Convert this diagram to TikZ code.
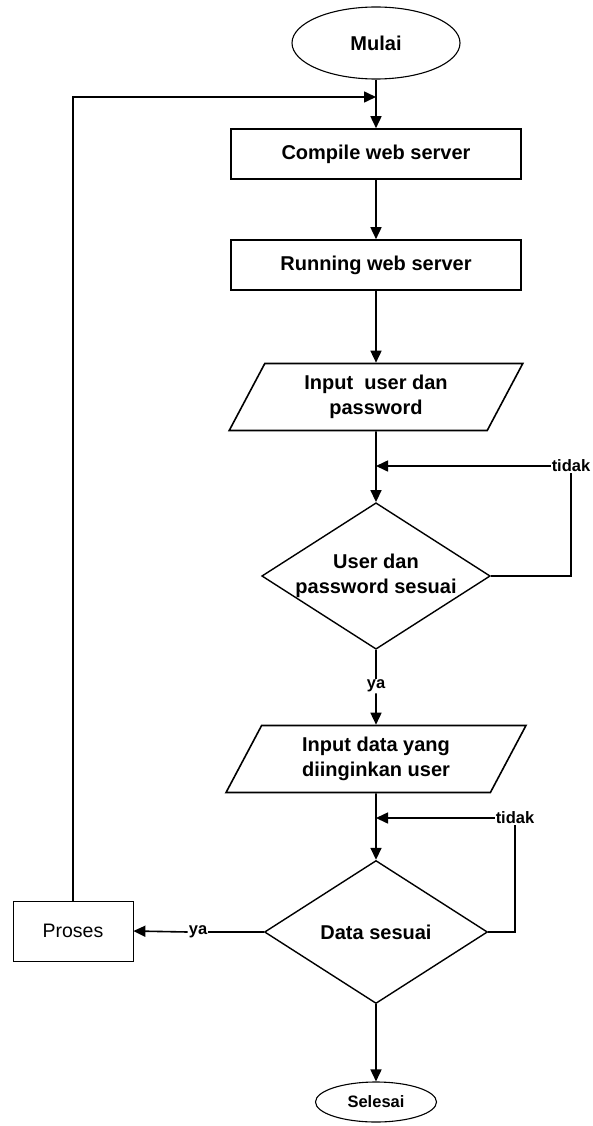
\documentclass[tikz,border=0pt]{standalone}
\usepackage{fontspec}
\setmainfont{Liberation Sans}
\usetikzlibrary{shapes.geometric,arrows.meta}

\begin{document}
\begin{tikzpicture}[x=1pt, y=1pt, line join=miter, >={Triangle[length=12pt,width=11pt]},
    font=\fontsize{20}{24.5}\selectfont\bfseries,
    terminal/.style={draw, ellipse, line width=1.1pt, inner sep=0pt},
    proc/.style={draw, line width=1.6pt, minimum width=290pt, minimum height=50pt, inner sep=0pt},
    io/.style={draw, trapezium, trapezium left angle=62, trapezium right angle=118, line width=1.6pt,
        minimum width=294pt, minimum height=67pt, inner sep=0pt, align=center},
    decision/.style={draw, diamond, aspect=1.56, line width=1.4pt, minimum width=223pt,
        minimum height=143pt, inner sep=0pt, align=center},
    lbl/.style={inner sep=1pt, font=\fontsize{16.5}{18}\selectfont\bfseries},
    conn/.style={line width=1.6pt}]
    \useasboundingbox (0,0) rectangle (592,-1126);
    % main column
    \node[terminal, minimum width=168pt, minimum height=72pt] (mulai) at (376,-43) {Mulai};
    \node[proc] (compile) at (376,-154) {Compile web server};
    \node[proc] (running) at (376,-265) {Running web server};
    \node[io] (inuser) at (376,-397) {Input\ \ user dan\\password};
    \node[decision] (cekuser) at (376,-576) {User dan\\password sesuai};
    \node[io] (indata) at (376,-759) {Input data yang\\diinginkan user};
    \node[decision] (cekdata) at (376,-932) {Data sesuai};
    \node[terminal, minimum width=121pt, minimum height=40pt,
        font=\fontsize{16.5}{18}\selectfont\bfseries] (selesai) at (376,-1102) {Selesai};
    \node[draw, line width=0.8pt, minimum width=120pt, minimum height=60pt,
        font=\fontsize{19.5}{22}\selectfont\mdseries] (proses) at (73,-931) {Proses};
    % labels
    \node[lbl] (tidaka) at (571,-466) {tidak};
    \node[lbl] (tidakb) at (515,-818) {tidak};
    \node[lbl] (yaa) at (376,-686) {ya};
    \node[lbl] (yab) at (198,-932) {ya};
    \coordinate (j0) at (376,-97);
    \coordinate (j1) at (376,-466);
    \coordinate (j2) at (376,-818);
    % connectors
    \draw[conn,->] (mulai) -- (compile);
    \draw[conn,->] (compile) -- (running);
    \draw[conn,->] (running) -- (inuser.north);
    \draw[conn,->] (inuser.south) -- (cekuser.north);
    \draw[conn] (cekuser.east) -| (tidaka.south);
    \draw[conn,->] (tidaka.west) -- (j1);
    \draw[conn] (cekuser.south) -- (yaa.north);
    \draw[conn,->] (yaa.south) -- (indata.north);
    \draw[conn,->] (indata.south) -- (cekdata.north);
    \draw[conn] (cekdata.east) -| (tidakb.south);
    \draw[conn,->] (tidakb.west) -- (j2);
    \draw[conn] (cekdata.west) -- (yab.east);
    \draw[conn,->] (yab.west) -- (proses.east);
    \draw[conn,->] (proses.north) |- (j0);
    \draw[conn,->] (cekdata.south) -- (selesai.north);
\end{tikzpicture}
\end{document}
